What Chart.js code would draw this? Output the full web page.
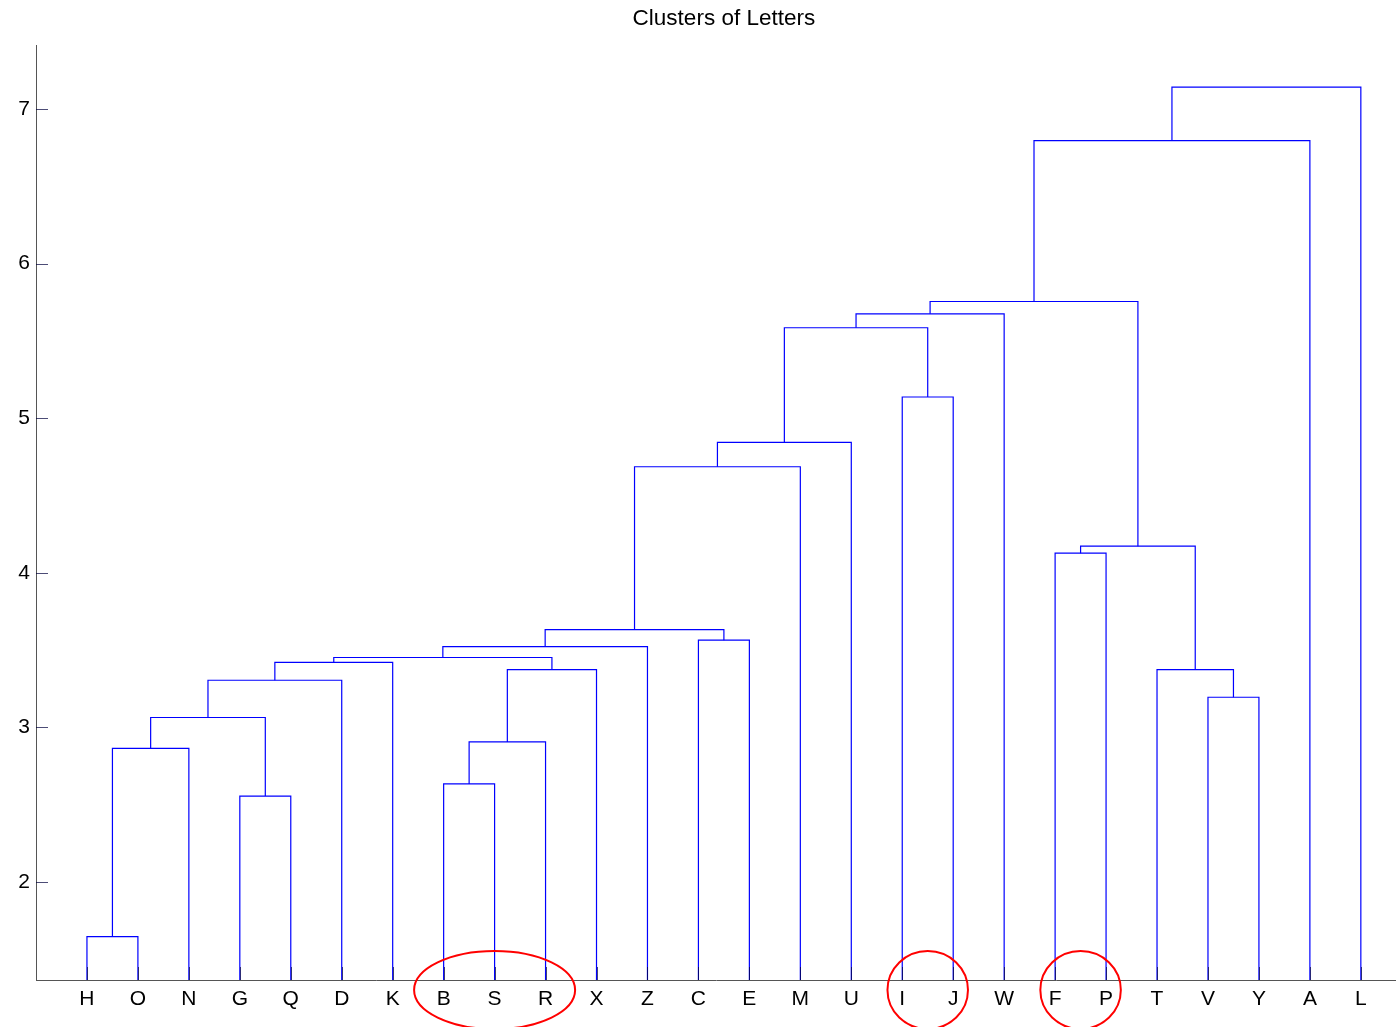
<!DOCTYPE html>
<html>
<head>
<meta charset="utf-8">
<title>Clusters of Letters</title>
<script src="https://cdn.jsdelivr.net/npm/chart.js@4"></script>
<style>
  html, body { margin: 0; padding: 0; background: #fff; }
  canvas { display: block; }
</style>
</head>
<body>
<canvas id="myChart" width="1396" height="1027"></canvas>
<script>
// Orden de las hojas en el eje X
const leaves = ["H", "O", "N", "G", "Q", "D", "K", "B", "S", "R", "X", "Z", "C",
  "E", "M", "U", "I", "J", "W", "F", "P", "T", "V", "Y", "A", "L"];

// Uniones del dendrograma: "#n" es el cluster creado en la fila n
const linkLeft = ["H", "#0", "G", "#1", "#3", "#4", "B", "#6", "#7", "#5", "#9", "C", "#10",
  "#12", "#13", "I", "#14", "#16", "F", "V", "T", "#18", "#17", "#22", "#23"];
const linkRight = ["O", "N", "Q", "#2", "D", "K", "S", "R", "X", "#8", "Z", "E", "#11",
  "M", "U", "J", "#15", "W", "P", "Y", "#19", "#20", "#21", "A", "L"];
const linkHeight = [1.647, 2.864, 2.556, 3.064, 3.305, 3.420, 2.634, 2.906, 3.374, 3.452,
  3.523, 3.564, 3.633, 4.686, 4.843, 5.137, 5.585, 5.675, 4.127, 3.195, 3.373, 4.172,
  5.755, 6.796, 7.142];

// Etiquetas del eje Y
const yTickValues = [2, 3, 4, 5, 6, 7];

// Grupos marcados con un círculo rojo
const circled = [["B", "S", "R"], ["I", "J"], ["F", "P"]];

// Posicion (x, altura) de cada nodo
function nodePos(name, clusters) {
  if (name.startsWith("#")) return clusters[parseInt(name.slice(1))];
  return { x: leaves.indexOf(name) + 1, h: 0 };
}

function buildLinks() {
  const clusters = [];
  const datasets = [];
  linkLeft.forEach((l, i) => {
    const a = nodePos(l, clusters);
    const b = nodePos(linkRight[i], clusters);
    const h = linkHeight[i];
    clusters.push({ x: (a.x + b.x) / 2, h: h });
    datasets.push({
      data: [
        { x: a.x, y: a.h },
        { x: a.x, y: h },
        { x: b.x, y: h },
        { x: b.x, y: b.h },
      ],
      showLine: true,
      borderColor: "#0000ff",
      borderWidth: 1.2,
      pointRadius: 0,
      fill: false,
    });
  });
  return datasets;
}

// Marcas de los ejes hacia adentro, título y círculos rojos
const extras = {
  id: "extras",
  afterDatasetsDraw(chart) {
    const { ctx, chartArea, scales } = chart;
    ctx.save();
    ctx.lineWidth = 1;
    ctx.strokeStyle = "rgba(0,0,60,0.7)";
    scales.y.ticks.forEach((t) => {
      const py = Math.round(scales.y.getPixelForValue(t.value)) + 0.5;
      ctx.beginPath();
      ctx.moveTo(chartArea.left, py);
      ctx.lineTo(chartArea.left + 12, py);
      ctx.stroke();
    });
    scales.x.ticks.forEach((t) => {
      const px = Math.round(scales.x.getPixelForValue(t.value)) + 0.5;
      ctx.beginPath();
      ctx.moveTo(px, chartArea.bottom);
      ctx.lineTo(px, chartArea.bottom - 13);
      ctx.stroke();
    });
    ctx.restore();
  },
  afterDraw(chart) {
    const { ctx, chartArea, scales } = chart;
    ctx.save();
    // Título centrado sobre el rango completo del eje (0 .. n+1)
    ctx.fillStyle = "#000";
    ctx.font = "22.5px 'Liberation Sans', Arial, sans-serif";
    ctx.textAlign = "center";
    ctx.textBaseline = "middle";
    ctx.fillText("Clusters of Letters", scales.x.getPixelForValue((leaves.length + 1) / 2), 19);

    ctx.strokeStyle = "#ff0000";
    ctx.lineWidth = 2;
    circled.forEach((group) => {
      const pos = group.map((g) => leaves.indexOf(g) + 1);
      const mid = (pos[0] + pos[pos.length - 1]) / 2;
      const cx = scales.x.getPixelForValue(mid);
      const rx = scales.x.getPixelForValue(mid + 0.79 * (group.length - 1)) - cx;
      ctx.beginPath();
      ctx.ellipse(cx, chartArea.bottom + 10, rx, 39, 0, 0, Math.PI * 2);
      ctx.stroke();
    });
    ctx.restore();
  },
};

function generateChart() {
  const ctx = document.getElementById("myChart").getContext("2d");
  new Chart(ctx, {
    type: "scatter",
    data: { datasets: buildLinks() },
    plugins: [extras],
    options: {
      responsive: false,
      animation: false,
      layout: { padding: { left: 0, right: 0, top: 45, bottom: 0 } },
      scales: {
        x: {
          type: "linear",
          min: 0,
          max: 26.69,
          afterBuildTicks: (s) => {
            s.ticks = leaves.map((_, i) => ({ value: i + 1 }));
          },
          afterFit: (s) => {
            s.height = 47;
          },
          ticks: {
            autoSkip: false,
            maxRotation: 0,
            padding: 7,
            color: "#000",
            font: { family: "'Liberation Sans', Arial, sans-serif", size: 21 },
            callback: (v) => leaves[v - 1],
          },
          grid: { drawOnChartArea: false, drawTicks: false },
          border: { display: true, color: "#555", width: 1 },
        },
        y: {
          type: "linear",
          min: 1.366,
          max: 7.414,
          afterBuildTicks: (s) => {
            s.ticks = yTickValues.map((v) => ({ value: v }));
          },
          afterFit: (s) => {
            s.width = 36;
          },
          ticks: {
            padding: 6,
            color: "#000",
            font: { family: "'Liberation Sans', Arial, sans-serif", size: 21 },
          },
          grid: { drawOnChartArea: false, drawTicks: false },
          border: { display: true, color: "#555", width: 1 },
        },
      },
      plugins: {
        legend: { display: false },
        tooltip: { enabled: false },
        title: { display: false },
      },
    },
  });
}

generateChart();
</script>
</body>
</html>
